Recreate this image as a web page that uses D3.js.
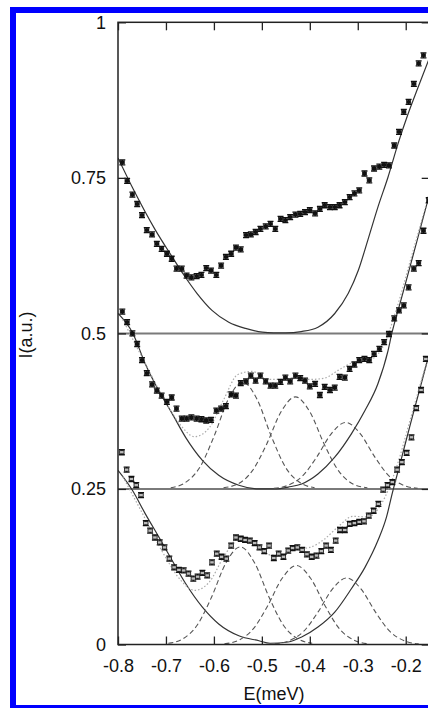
<!DOCTYPE html>
<html>
<head>
<meta charset="utf-8">
<script src="https://cdn.jsdelivr.net/npm/d3@7"></script>
<style>
body { margin: 0; background: #fff; }
svg text { font-family: "Liberation Sans", Arial, Helvetica, sans-serif; fill: #111; }
</style>
</head>
<body>
<script>
// energy grid of the two upper scans, and of the lower scan (meV)
var energies = [-0.791,-0.781,-0.770,-0.760,-0.750,-0.740,-0.729,-0.719,-0.709,-0.698,
  -0.688,-0.678,-0.667,-0.657,-0.647,-0.636,-0.626,-0.616,-0.606,-0.595,
  -0.585,-0.575,-0.564,-0.554,-0.544,-0.533,-0.523,-0.513,-0.503,-0.492,
  -0.482,-0.472,-0.461,-0.451,-0.441,-0.430,-0.420,-0.410,-0.400,-0.389,
  -0.379,-0.369,-0.358,-0.348,-0.338,-0.327,-0.317,-0.307,-0.297,-0.286,
  -0.276,-0.266,-0.255,-0.245,-0.235,-0.224,-0.214,-0.204,-0.194,-0.183,
  -0.173,-0.163,-0.152];
var energiesLow = [-0.792,-0.782,-0.772,-0.762,-0.752,-0.742,-0.733,-0.723,-0.713,-0.703,
  -0.693,-0.683,-0.673,-0.663,-0.653,-0.643,-0.634,-0.624,-0.614,-0.604,
  -0.594,-0.584,-0.574,-0.564,-0.554,-0.544,-0.535,-0.525,-0.515,-0.505,
  -0.495,-0.485,-0.475,-0.465,-0.455,-0.445,-0.436,-0.426,-0.416,-0.406,
  -0.396,-0.386,-0.376,-0.366,-0.356,-0.346,-0.337,-0.327,-0.317,-0.307,
  -0.297,-0.287,-0.277,-0.267,-0.257,-0.247,-0.238,-0.228,-0.218,-0.208,
  -0.198,-0.188,-0.178,-0.168,-0.158];

// measured intensities (a.u.), curves offset by 0.5 / 0.25 / 0
var topScan = [0.775,0.745,0.723,0.708,0.690,0.666,0.659,0.644,0.636,0.628,
  0.620,0.604,0.604,0.593,0.590,0.592,0.594,0.605,0.601,0.594,
  0.609,0.623,0.628,0.638,0.635,0.658,0.659,0.663,0.668,0.672,
  0.676,0.668,0.684,0.682,0.687,0.691,0.692,0.695,0.698,0.693,
  0.700,0.706,0.703,0.703,0.706,0.711,0.719,0.725,0.730,0.757,
  0.746,0.765,0.768,0.771,0.770,0.802,0.824,0.856,0.872,0.901,
  0.934,0.947,null];
var midScan = [0.535,0.518,0.500,0.483,0.457,0.436,0.418,0.408,0.400,0.390,
  0.397,0.379,0.363,0.363,0.365,0.363,0.362,0.360,0.361,0.376,
  0.379,0.383,0.402,0.400,0.420,0.423,0.432,0.424,0.432,0.423,
  0.416,0.416,0.422,0.429,0.423,0.432,0.428,0.424,0.415,0.419,
  0.401,0.414,0.409,0.413,0.430,0.429,0.443,0.450,0.457,0.459,
  0.457,0.467,0.475,0.486,0.499,0.524,0.537,0.545,0.574,0.604,
  0.613,0.665,0.714];
var lowScan = [0.309,0.281,0.266,0.256,0.240,0.195,0.183,0.172,0.164,0.156,
  0.138,0.124,0.120,0.119,0.114,0.106,0.109,0.115,0.111,0.132,
  0.146,0.141,0.138,0.159,0.172,0.170,0.168,0.167,0.163,0.156,
  0.150,0.159,0.139,0.146,0.141,0.151,0.155,0.156,0.152,0.145,
  0.141,0.143,0.150,0.159,0.152,0.167,0.184,0.184,0.194,0.195,
  0.197,0.198,0.207,0.215,0.226,0.249,0.256,0.261,0.281,0.293,
  0.308,0.333,0.380,0.409,0.459];

// background curves [E, I]
var topBg = [[-0.8,0.782],[-0.767,0.730],[-0.722,0.666],[-0.687,0.623],[-0.662,0.593],[-0.635,0.564],
  [-0.604,0.537],[-0.569,0.518],[-0.534,0.508],[-0.499,0.502],[-0.476,0.501],[-0.45,0.501],[-0.418,0.503],
  [-0.383,0.510],[-0.348,0.532],[-0.320,0.564],[-0.299,0.601],[-0.279,0.650],[-0.258,0.703],[-0.237,0.751],
  [-0.216,0.805],[-0.195,0.853],[-0.174,0.896],[-0.15,0.944]];
var midBg = [[-0.8,0.532],[-0.769,0.500],[-0.743,0.451],[-0.715,0.408],[-0.687,0.371],[-0.659,0.333],
  [-0.624,0.296],[-0.590,0.272],[-0.548,0.256],[-0.506,0.250],[-0.47,0.250],[-0.445,0.253],[-0.417,0.258],
  [-0.383,0.274],[-0.348,0.301],[-0.313,0.339],[-0.285,0.376],[-0.258,0.419],[-0.237,0.472],[-0.229,0.500],
  [-0.212,0.548],[-0.19,0.610],[-0.15,0.725]];
var lowBg = [[-0.8,0.280],[-0.770,0.248],[-0.743,0.210],[-0.715,0.173],[-0.687,0.135],[-0.659,0.098],
  [-0.624,0.060],[-0.590,0.033],[-0.548,0.014],[-0.506,0.006],[-0.483,0.002],[-0.445,0.004],[-0.417,0.012],
  [-0.383,0.028],[-0.348,0.052],[-0.313,0.090],[-0.285,0.124],[-0.258,0.167],[-0.240,0.205],[-0.229,0.240],
  [-0.212,0.290],[-0.19,0.355],[-0.15,0.47]];

// peak components (dashed)
var midPeak1 = [[-0.69,0.252],[-0.66,0.260],[-0.63,0.284],[-0.60,0.334],[-0.57,0.394],[-0.54,0.422],
  [-0.51,0.394],[-0.48,0.334],[-0.45,0.284],[-0.42,0.260],[-0.39,0.252]];
var midPeak2 = [[-0.58,0.252],[-0.55,0.258],[-0.52,0.279],[-0.49,0.322],[-0.46,0.374],[-0.43,0.398],
  [-0.40,0.374],[-0.37,0.322],[-0.34,0.279],[-0.31,0.258],[-0.28,0.252]];
var midPeak3 = [[-0.475,0.251],[-0.445,0.256],[-0.415,0.271],[-0.385,0.302],[-0.355,0.339],[-0.325,0.357],
  [-0.295,0.339],[-0.265,0.302],[-0.235,0.271],[-0.205,0.256],[-0.175,0.251]];
var lowPeak1 = [[-0.695,0.002],[-0.665,0.009],[-0.635,0.031],[-0.605,0.076],[-0.575,0.131],[-0.545,0.157],
  [-0.515,0.131],[-0.485,0.076],[-0.455,0.031],[-0.425,0.009],[-0.395,0.002]];
var lowPeak2 = [[-0.578,0.001],[-0.548,0.007],[-0.518,0.025],[-0.488,0.062],[-0.458,0.106],[-0.428,0.127],
  [-0.398,0.106],[-0.368,0.062],[-0.338,0.025],[-0.308,0.007],[-0.278,0.001]];
var lowPeak3 = [[-0.473,0.001],[-0.443,0.006],[-0.413,0.021],[-0.383,0.052],[-0.353,0.089],[-0.323,0.107],
  [-0.293,0.089],[-0.263,0.052],[-0.233,0.021],[-0.203,0.006],[-0.173,0.001]];

// total fits (dotted)
var midFit = [[-0.79,0.522],[-0.75,0.462],[-0.70,0.389],[-0.67,0.353],[-0.64,0.334],[-0.61,0.348],
  [-0.58,0.393],[-0.55,0.434],[-0.52,0.439],[-0.49,0.426],[-0.46,0.426],[-0.43,0.429],[-0.40,0.426],
  [-0.37,0.428],[-0.34,0.441],[-0.31,0.453],[-0.28,0.456],[-0.25,0.475],[-0.22,0.537],[-0.19,0.618],[-0.15,0.728]];
var lowFit = [[-0.79,0.270],[-0.75,0.212],[-0.70,0.139],[-0.67,0.104],[-0.64,0.087],[-0.61,0.100],
  [-0.58,0.140],[-0.55,0.169],[-0.52,0.164],[-0.49,0.145],[-0.46,0.143],[-0.43,0.153],[-0.40,0.156],
  [-0.37,0.169],[-0.34,0.190],[-0.31,0.206],[-0.28,0.205],[-0.25,0.227],[-0.22,0.283],[-0.19,0.363],[-0.15,0.472]];

var baselines = [0.5, 0.25];
var xTicks = [-0.8, -0.7, -0.6, -0.5, -0.4, -0.3, -0.2];
var yTicks = [0, 0.25, 0.5, 0.75, 1];

var width = 428, height = 708;
var pLeft = 118, pRight = 429.7, pTop = 22.3, pBottom = 644.5;

var svg = d3.select("body").append("svg")
    .attr("width", width)
    .attr("height", height);

svg.append("rect")
    .attr("x", 13).attr("y", 10)
    .attr("width", 500).attr("height", 698)
    .attr("fill", "none")
    .attr("stroke", "#0000ff")
    .attr("stroke-width", 6);

var x = d3.scaleLinear().domain([-0.8, -0.15]).range([pLeft, pRight]);
var y = d3.scaleLinear().domain([0, 1]).range([pBottom, pTop]);

svg.append("clipPath").attr("id", "plot")
  .append("rect")
    .attr("x", pLeft).attr("y", pTop)
    .attr("width", pRight - pLeft).attr("height", pBottom - pTop);

var plot = svg.append("g").attr("clip-path", "url(#plot)");

plot.selectAll(".base")
    .data(baselines)
    .enter()
    .append("line")
    .attr("x1", pLeft).attr("x2", pRight)
    .attr("y1", function(d) { return y(d) })
    .attr("y2", function(d) { return y(d) })
    .attr("stroke", "#7a7a7a")
    .attr("stroke-width", 2);

var line = d3.line()
    .x(function(d) { return x(d[0]) })
    .y(function(d) { return y(d[1]) })
    .curve(d3.curveMonotoneX);

function curve(data, color, dash, w) {
  plot.append("path")
    .attr("d", line(data))
    .attr("fill", "none")
    .attr("stroke", color)
    .attr("stroke-width", w)
    .attr("stroke-dasharray", dash);
}

[topBg, midBg, lowBg].forEach(function(c) { curve(c, "#333", null, 1.2) });
[midPeak1, midPeak2, midPeak3, lowPeak1, lowPeak2, lowPeak3].forEach(function(c) { curve(c, "#555", "5,3", 1.1) });
[midFit, lowFit].forEach(function(c) { curve(c, "#aaa", "1.5,2", 1.2) });

function scan(es, vals, hollow) {
  var pts = es.map(function(e, i) { return [e, vals[i]] })
    .filter(function(d) { return d[1] != null });
  var g = plot.append("g");
  g.selectAll("path")
    .data(pts)
    .enter()
    .append("path")
    .attr("d", function(d) {
      var px = x(d[0]), py = y(d[1]);
      return "M" + (px - 3) + "," + (py - 2.5) + "h6M" + (px - 3) + "," + (py + 2.5) + "h6M" + px + "," + (py - 2.5) + "v5";
    })
    .attr("stroke", "#111")
    .attr("stroke-width", 1.3);
  g.selectAll("rect")
    .data(pts)
    .enter()
    .append("rect")
    .attr("x", function(d) { return x(d[0]) - 2.2 })
    .attr("y", function(d) { return y(d[1]) - 1.6 })
    .attr("width", 4.4).attr("height", 3.2)
    .attr("fill", hollow ? "#bbb" : "#111")
    .attr("stroke", "#111")
    .attr("stroke-width", hollow ? 0.8 : 0.5);
}

scan(energies, topScan, false);
scan(energies, midScan, false);
scan(energiesLow, lowScan, true);

// axes and frame
var fmt = function(d) { return String(d) };

var xb = svg.append("g").attr("transform", "translate(0," + pBottom + ")")
    .call(d3.axisBottom(x).tickValues(xTicks).tickSize(-8).tickSizeOuter(0).tickPadding(14.5).tickFormat(fmt));
var xt = svg.append("g").attr("transform", "translate(0," + pTop + ")")
    .call(d3.axisTop(x).tickValues(xTicks).tickSize(-8).tickSizeOuter(0).tickFormat(""));
var yl = svg.append("g").attr("transform", "translate(" + pLeft + ",0)")
    .call(d3.axisLeft(y).tickValues(yTicks).tickSize(-8).tickSizeOuter(0).tickPadding(12).tickFormat(fmt));
var yr = svg.append("g").attr("transform", "translate(" + pRight + ",0)")
    .call(d3.axisRight(y).tickValues(yTicks).tickSize(-8).tickSizeOuter(0).tickFormat(""));

[xb, xt, yl, yr].forEach(function(a) {
  a.select(".domain").remove();
  a.selectAll("line").attr("stroke", "#222").attr("stroke-width", 1.3);
  a.selectAll("text").attr("font-size", 18).attr("fill", "#111")
    .style("font-family", "'Liberation Sans', Arial, sans-serif");
});

svg.append("rect")
    .attr("x", pLeft).attr("y", pTop)
    .attr("width", pRight - pLeft).attr("height", pBottom - pTop)
    .attr("fill", "none")
    .attr("stroke", "#222")
    .attr("stroke-width", 1.5);

svg.append("text")
    .attr("x", 274).attr("y", 700)
    .attr("text-anchor", "middle")
    .attr("font-size", 18)
    .text("E(meV)");

svg.append("text")
    .attr("transform", "translate(32,335) rotate(-90)")
    .attr("text-anchor", "middle")
    .attr("font-size", 18)
    .text("I(a.u.)");
</script>
</body>
</html>
